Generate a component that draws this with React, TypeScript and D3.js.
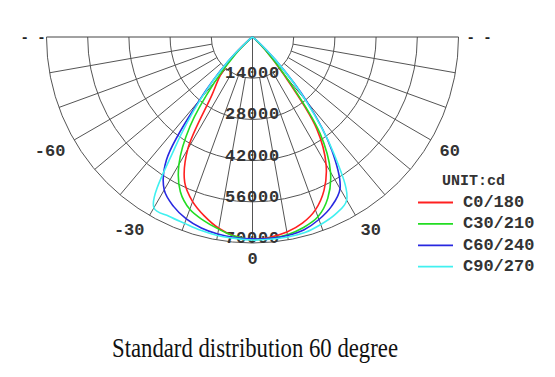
import React from "react";
import * as d3 from "d3";

const ANGLES = [-90, -85, -80, -75, -70, -65, -60, -55, -50, -45, -40, -35, -30, -25, -20, -15, -10, -5, 0, 5, 10, 15, 20, 25, 30, 35, 40, 45, 50, 55, 60, 65, 70, 75, 80, 85, 90];

const C0_180 = [0, 0, 0, 0, 0, 0, 0, 300, 1500, 10000, 17000, 24000, 44000, 54500, 59500, 63000, 66000, 68000, 68800, 68300, 67300, 65500, 62500, 57500, 50000, 38000, 16000, 6000, 1500, 300, 0, 0, 0, 0, 0, 0, 0];
const C30_210 = [0, 0, 0, 0, 0, 0, 0, 300, 1500, 8000, 20000, 37000, 50000, 58000, 62300, 64500, 66300, 68000, 68800, 68700, 68200, 67000, 65000, 60500, 53000, 40000, 18000, 6000, 1500, 300, 0, 0, 0, 0, 0, 0, 0];
const C60_240 = [0, 0, 0, 0, 0, 0, 0, 300, 2000, 12000, 28000, 51000, 60000, 63500, 65800, 67200, 68000, 68400, 68600, 68700, 68500, 67800, 66000, 63500, 59500, 47000, 29000, 11000, 2000, 300, 0, 0, 0, 0, 0, 0, 0];
const C90_270 = [0, 0, 0, 0, 0, 0, 0, 300, 2000, 12000, 27000, 46000, 67000, 67200, 67400, 68000, 68500, 68700, 69000, 69000, 69000, 68800, 67800, 66500, 64000, 48000, 28000, 11000, 2000, 300, 0, 0, 0, 0, 0, 0, 0];

const SERIES_NAMES = ["C0/180", "C30/210", "C60/240", "C90/270"];
const SERIES_VALUES = [C0_180, C30_210, C60_240, C90_270];
const SERIES_COLORS = ["#ff2020", "#22dd22", "#2828e0", "#40f0f0"];

const RADIAL_TICKS = [14000, 28000, 42000, 56000, 70000];
const ANGLE_TICKS = [-60, -30, 0, 30, 60];
const GRID_ANGLES = [-80, -70, -60, -50, -40, -30, -20, -10, 0, 10, 20, 30, 40, 50, 60, 70, 80];

const UNIT_LABEL = "UNIT:cd";
const TITLE = "Standard distribution 60 degree";

const W = 555;
const H = 377;
const CX = 252.5;
const CY = 37;
const R = 206;

const MONO = "'Liberation Mono', 'Courier New', monospace";

export default function App() {
  const r = d3.scaleLinear().domain([0, 70000]).range([0, R]);
  const toRad = (deg: number) => (deg * Math.PI) / 180;
  // angle 0 points down, positive to the right
  const px = (deg: number, rad: number) => CX + rad * Math.sin(toRad(deg));
  const py = (deg: number, rad: number) => CY + rad * Math.cos(toRad(deg));

  const line = d3
    .lineRadial<number>()
    .angle((_, i) => Math.PI - toRad(ANGLES[i]))
    .radius((d) => r(d))
    .curve(d3.curveCatmullRom.alpha(0.5));

  const arcPath = (rad: number) => {
    const p = d3.path();
    p.moveTo(CX - rad, CY);
    p.arc(CX, CY, rad, Math.PI, 0, true);
    return p.toString();
  };

  const innerR = r(RADIAL_TICKS[0]);
  const gridColor = "#555";

  return (
    <svg
      width={W}
      height={H}
      style={{ position: "absolute", left: 0, top: 0, background: "#fff" }}
    >
      <rect x={0} y={0} width={W} height={H} fill="#fff" />
      {/* grid arcs */}
      {RADIAL_TICKS.map((t) => (
        <path key={t} d={arcPath(r(t))} fill="none" stroke={gridColor} strokeWidth={1} />
      ))}
      {/* radial lines */}
      {GRID_ANGLES.map((a) => (
        <line
          key={a}
          x1={px(a, a === 0 ? 0 : innerR)}
          y1={py(a, a === 0 ? 0 : innerR)}
          x2={px(a, R)}
          y2={py(a, R)}
          stroke={gridColor}
          strokeWidth={1}
        />
      ))}
      {/* top line */}
      <line x1={CX - R} y1={CY} x2={CX + R} y2={CY} stroke="#444" strokeWidth={1} />
      {/* clipped side labels */}
      <text x={CX - R - 26} y={CY + 1} fontFamily={MONO} fontWeight="bold" fontSize={14} fill="#222" dominantBaseline="central">- -</text>
      <text x={CX + R + 8} y={CY + 1} fontFamily={MONO} fontWeight="bold" fontSize={14} fill="#222" dominantBaseline="central">- -</text>

      {/* radial tick labels */}
      {RADIAL_TICKS.map((t) => (
        <text
          key={t}
          x={CX}
          y={CY + r(t)}
          textAnchor="middle"
          fontFamily={MONO}
          fontWeight="bold"
          fontSize={17}
          letterSpacing={0.8}
          fill="#333"
        >
          {t}
        </text>
      ))}

      {/* curves */}
      {SERIES_VALUES.map((vals, i) => (
        <path
          key={SERIES_NAMES[i]}
          d={line(vals) || ""}
          transform={`translate(${CX},${CY})`}
          fill="none"
          stroke={SERIES_COLORS[i]}
          strokeWidth={1.6}
        />
      ))}

      {/* angle labels */}
      {ANGLE_TICKS.map((a) => {
        const x = px(a, R + 10);
        const y = py(a, R + 10);
        const anchor = a < 0 ? "end" : a > 0 ? "start" : "middle";
        return (
          <text
            key={a}
            x={x}
            y={y + 6}
            textAnchor={anchor}
            fontFamily={MONO}
            fontWeight="bold"
            fontSize={17}
            fill="#333"
            dominantBaseline="central"
          >
            {a}
          </text>
        );
      })}

      {/* legend */}
      <text x={442} y={181} fontFamily={MONO} fontWeight="bold" fontSize={15} fill="#333" dominantBaseline="central">
        {UNIT_LABEL}
      </text>
      {SERIES_NAMES.map((n, i) => {
        const y = 202.5 + i * 21.4;
        return (
          <g key={n}>
            <line x1={418} x2={453} y1={y} y2={y} stroke={SERIES_COLORS[i]} strokeWidth={1.8} />
            <text x={463} y={y} fontFamily={MONO} fontWeight="bold" fontSize={17} fill="#333" dominantBaseline="central">
              {n}
            </text>
          </g>
        );
      })}

      {/* title */}
      <text
        x={255}
        y={357}
        textAnchor="middle"
        fontFamily="'Liberation Serif', serif"
        fontSize={27}
        textLength={286}
        lengthAdjust="spacingAndGlyphs"
        fill="#111"
      >
        {TITLE}
      </text>
    </svg>
  );
}
